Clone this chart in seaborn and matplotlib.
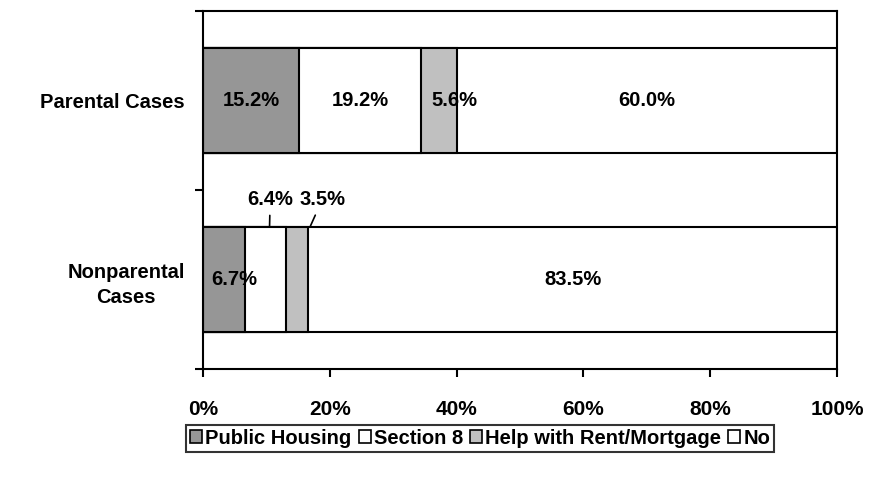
import matplotlib
matplotlib.use("Agg")
import matplotlib.pyplot as plt
import seaborn as sns
import pandas as pd
import numpy as np
from matplotlib.patches import Patch

cases = ["Parental Cases", "Nonparental\nCases"]
series = ["Public Housing", "Section 8", "Help with Rent/Mortgage", "No"]
public_housing = [15.2, 6.7]
section8 = [19.2, 6.4]
help_rent = [5.6, 3.5]
no_help = [60.0, 83.5]
colors = ["#969696", "#ffffff", "#c0c0c0", "#ffffff"]

sns.set_theme(style="white")
plt.rcParams["font.family"] = ["Liberation Sans", "DejaVu Sans"]
plt.rcParams["font.weight"] = "bold"
for k in ["text.color", "xtick.color", "ytick.color", "axes.labelcolor"]:
    plt.rcParams[k] = "black"
fs = 14.5

vals = np.array([public_housing, section8, help_rent, no_help])
cum = np.minimum(vals.cumsum(axis=0), 100)

fig = plt.figure(figsize=(8.73, 4.90), dpi=100)
ax = fig.add_axes([0.2325, 0.2469, 0.7263, 0.7307])

# stacked bars: draw cumulative totals from the largest down
for i in range(len(series) - 1, -1, -1):
    df = pd.DataFrame({"case": cases, "value": cum[i]})
    sns.barplot(data=df, x="value", y="case", orient="h", color=colors[i],
                width=0.59, edgecolor="black", linewidth=1.5, saturation=1,
                ax=ax)

ax.set_xlim(0, 100)
ax.set_ylim(1.5, -0.5)
ax.set_xlabel("")
ax.set_ylabel("")
for s in ax.spines.values():
    s.set_color("black")
    s.set_linewidth(1.5)

ax.set_xticks([0, 20, 40, 60, 80, 100])
ax.set_xticklabels(["0%", "20%", "40%", "60%", "80%", "100%"],
                   fontsize=15, fontweight="bold")
ax.tick_params(axis="x", bottom=True, direction="out", length=6, width=1.5,
               pad=16, color="black")
ax.set_yticks([0, 1])
ax.set_yticklabels(cases, fontsize=fs, fontweight="bold", ha="right",
                   multialignment="center", linespacing=1.4)
ax.tick_params(axis="y", which="major", left=False, pad=7)
ax.set_yticks([-0.5, 0.5, 1.5], minor=True)
ax.tick_params(axis="y", which="minor", left=True, direction="out",
               length=6, width=1.5, color="black")

# segment labels
starts = np.vstack([np.zeros(2), cum[:-1]])
centers = starts + vals / 2
shift = {(0, 2): 2.4, (1, 0): 1.65}
for j in range(len(cases)):
    for i in range(len(series)):
        if j == 1 and i in (1, 2):
            continue
        x = centers[i, j] + shift.get((j, i), 0)
        ax.text(x, j, f"{vals[i, j]:.1f}%", ha="center", va="center",
                fontsize=fs, fontweight="bold", color="black")

# small segments in the nonparental bar, labelled above with leader lines
ax.annotate(f"{section8[1]:.1f}%", xy=(centers[1, 1] + 0.6, 1 - 0.295),
            xytext=(centers[1, 1] + 0.7, 1 - 0.445),
            ha="center", va="center", fontsize=fs, fontweight="bold",
            arrowprops=dict(arrowstyle="-", color="black", lw=1.2,
                            shrinkA=2, shrinkB=0))
ax.annotate(f"{help_rent[1]:.1f}%", xy=(cum[2, 1] + 0.3, 1 - 0.295),
            xytext=(cum[2, 1] + 2.2, 1 - 0.445),
            ha="center", va="center", fontsize=fs, fontweight="bold",
            arrowprops=dict(arrowstyle="-", color="black", lw=1.2,
                            shrinkA=2, shrinkB=0))

handles = [Patch(facecolor=c, edgecolor="black", linewidth=1.2) for c in colors]
leg = fig.legend(handles, series, loc="center", bbox_to_anchor=(0.55, 0.106),
                 ncol=4, frameon=True, fancybox=False, handlelength=0.6,
                 handleheight=0.6, handletextpad=0.15, columnspacing=0.35,
                 borderpad=0.2, borderaxespad=0,
                 prop={"size": fs, "weight": "bold"})
leg.get_frame().set_edgecolor("black")
leg.get_frame().set_linewidth(1.5)

fig.savefig("out.png", dpi=100)
